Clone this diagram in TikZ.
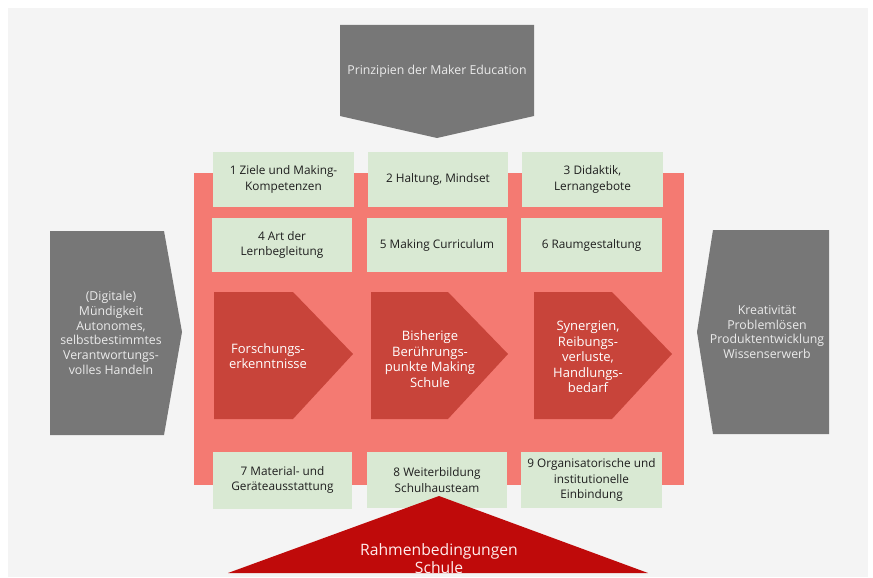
\documentclass[tikz,border=0pt]{standalone}
\usepackage{fontspec}
\setmainfont{Open Sans}
\definecolor{pagegray}{HTML}{F4F4F4}
\definecolor{arrowgray}{HTML}{777777}
\definecolor{salmon}{HTML}{F47A72}
\definecolor{mintgreen}{HTML}{D9E9D3}
\definecolor{brickred}{HTML}{C8443A}
\definecolor{crimson}{HTML}{BF0A0A}
\definecolor{darktext}{HTML}{1E1E1E}
\tikzset{
  greenbox/.style={fill=mintgreen, draw=none, inner sep=0pt, align=center,
    text=darktext, font=\fontsize{11.8}{15.2}\selectfont},
  whitelabel/.style={align=center, text=white, inner sep=0pt,
    font=\fontsize{13}{15.5}\selectfont},
  graylabel/.style={align=center, text=white!92!black, inner sep=0pt,
    font=\fontsize{12.3}{14.7}\selectfont},
  bannerlabel/.style={align=center, text=white!93!red, inner sep=0pt,
    anchor=base, font=\fontsize{15.7}{20}\selectfont},
}
\begin{document}
\begin{tikzpicture}[x=1pt,y=-1pt]
\useasboundingbox (0,0) rectangle (873,578);
\fill[white] (0,0) rectangle (873,578);
\fill[pagegray] (8,8) rectangle (868,577);

% central field
\fill[salmon] (194,173) rectangle (684,485);

% top arrow
\fill[arrowgray] (340,25) -- (534,25) -- (534,116) -- (437,138) -- (340,116) -- cycle;
\node[graylabel] (prinz) at (437,71) {Prinzipien der Maker Education};

% left arrow
\fill[arrowgray] (50,231) -- (164,231) -- (182,332) -- (164,435) -- (50,435) -- cycle;
\node[graylabel] (left) at (111,333) {(Digitale)\\Mündigkeit\\Autonomes,\\selbstbestimmtes\\Verantwortungs-\\volles Handeln};

% right arrow
\fill[arrowgray] (713,230) -- (829,230) -- (829,434) -- (713,434) -- (697,332) -- cycle;
\node[graylabel] (right) at (767,332) {Kreativität\\Problemlösen\\Produktentwicklung\\Wissenserwerb};

% green fields, rows 1 and 2
\node[greenbox, minimum width=141pt, minimum height=55pt] (b1) at (283.5,179.5) {1 Ziele und Making-\\Kompetenzen};
\node[greenbox, minimum width=140pt, minimum height=55pt] (b2) at (438,179.5) {2 Haltung, Mindset};
\node[greenbox, minimum width=141pt, minimum height=55pt] (b3) at (592.5,179.5) {3 Didaktik,\\Lernangebote};
\node[greenbox, minimum width=140pt, minimum height=54pt] (b4) at (282,245) {4 Art der\\Lernbegleitung};
\node[greenbox, minimum width=140pt, minimum height=54pt] (b5) at (437,245) {5 Making Curriculum};
\node[greenbox, minimum width=141pt, minimum height=54pt] (b6) at (591.5,245) {6 Raumgestaltung};

% red process arrows
\fill[brickred] (214,292) -- (293,292) -- (353,354) -- (293,419) -- (214,419) -- cycle;
\node[whitelabel] (p1) at (268,356) {Forschungs-\\erkenntnisse};
\fill[brickred] (371,292) -- (448,292) -- (508,354) -- (448,419) -- (371,419) -- cycle;
\node[whitelabel] (p2) at (430,359) {Bisherige\\Berührungs-\\punkte Making\\Schule};
\fill[brickred] (534,292) -- (612,292) -- (672,354) -- (612,419) -- (534,419) -- cycle;
\node[whitelabel] (p3) at (588,357) {Synergien,\\Reibungs-\\verluste,\\Handlungs-\\bedarf};

% green fields, row 3
\node[greenbox, minimum width=139pt, minimum height=57pt] (b7) at (282.5,480) {7 Material- und\\Geräteausstattung};
\node[greenbox, minimum width=140pt, minimum height=56pt] (b8) at (437,480) {8 Weiterbildung\\Schulhausteam};
\node[greenbox, minimum width=141pt, minimum height=56pt] (b9) at (591.5,480) {9 Organisatorische und\\institutionelle\\Einbindung};

% bottom triangle
\fill[crimson] (439,496) -- (648,573) -- (228,573) -- cycle;
\node[bannerlabel] (rahmen) at (439,555) {Rahmenbedingungen};
\node[bannerlabel] (schule) at (439,573.5) {Schule};
\end{tikzpicture}
\end{document}
